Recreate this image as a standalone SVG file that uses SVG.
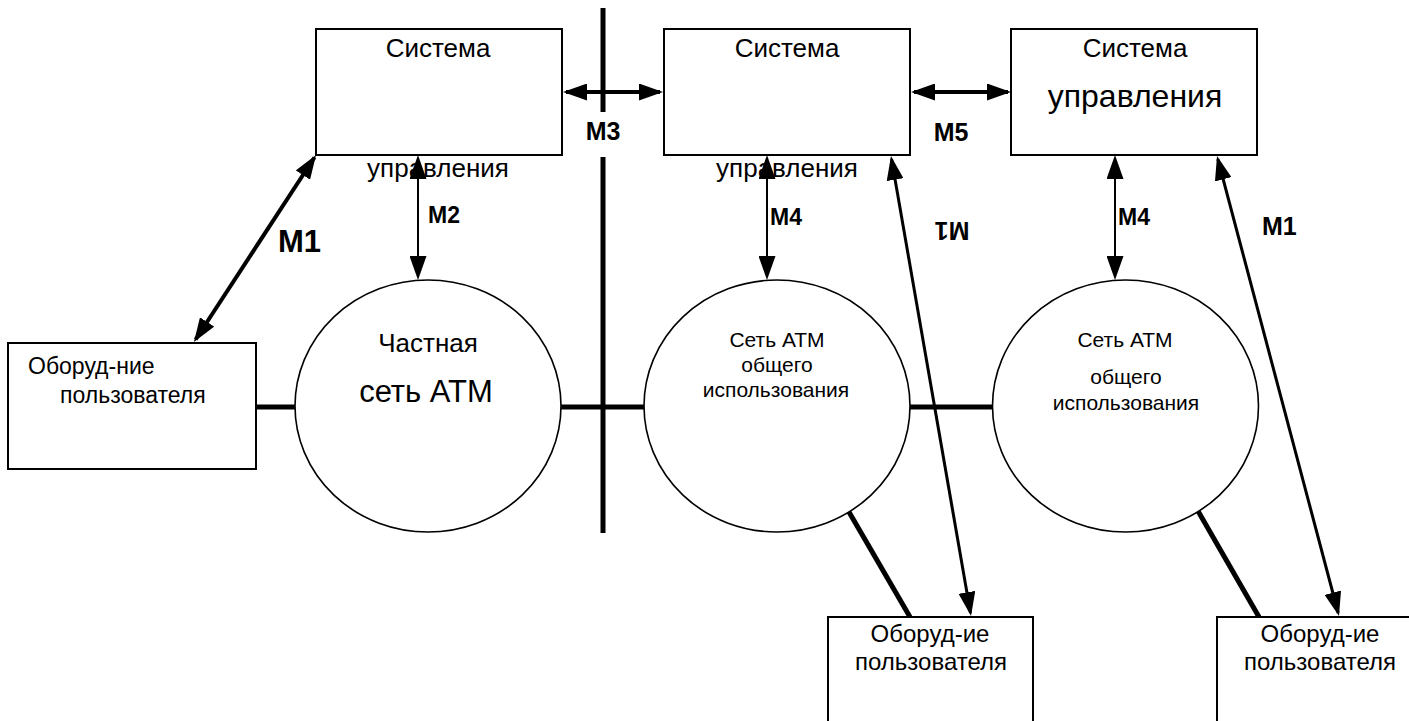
<svg xmlns="http://www.w3.org/2000/svg" width="1409" height="721" viewBox="0 0 1409 721">
  <style>
    .box { fill: #fff; stroke: #000; stroke-width: 2; }
    .net { fill: #fff; stroke: #000; stroke-width: 1.6; }
    .t { font-family: "Liberation Sans", Arial, sans-serif; fill: #000; }
    .c { text-anchor: middle; }
    .lbl { font-family: "Liberation Sans", Arial, sans-serif; font-weight: bold; fill: #000; }
    .link { stroke: #000; stroke-width: 5; fill: none; }
    .arr { stroke: #000; fill: none; marker-start: url(#head); marker-end: url(#head); }
  </style>
  <defs>
    <marker id="head" markerUnits="userSpaceOnUse" markerWidth="24" markerHeight="17" refX="21" refY="8.5" orient="auto-start-reverse" viewBox="0 0 24 17">
      <path d="M0,0 L24,8.5 L0,17 Z" fill="#000"/>
    </marker>
  </defs>
  <rect width="1409" height="721" fill="#fff"/>

  <!-- border between private and public networks -->
  <g id="divider">
    <line x1="603" y1="8" x2="603" y2="112" stroke="#000" stroke-width="5"/>
    <line x1="603" y1="157" x2="603" y2="533" stroke="#000" stroke-width="5"/>
  </g>

  <g id="links">
    <line class="link" x1="256" y1="407" x2="296" y2="407"/>
    <line class="link" x1="561" y1="407" x2="645" y2="407"/>
    <line class="link" x1="909" y1="407" x2="993" y2="407"/>
    <line class="link" x1="849" y1="512" x2="910" y2="617"/>
    <line class="link" x1="1198" y1="511" x2="1259" y2="617"/>
  </g>

  <g id="mgmt-private">
    <rect class="box" x="316" y="29" width="246" height="126"/>
    <text class="t c" x="438" y="57" font-size="26">Система</text>
    <text class="t c" x="438" y="177" font-size="26">управления</text>
  </g>
  <g id="mgmt-public-1">
    <rect class="box" x="664" y="29" width="246" height="126"/>
    <text class="t c" x="787" y="57" font-size="26">Система</text>
    <text class="t c" x="787" y="177" font-size="26">управления</text>
  </g>
  <g id="mgmt-public-2">
    <rect class="box" x="1011" y="29" width="246" height="126"/>
    <text class="t c" x="1135" y="57" font-size="26">Система</text>
    <text class="t c" x="1135" y="107" font-size="32">управления</text>
  </g>

  <g id="user-left">
    <rect class="box" x="8" y="343" width="248" height="126"/>
    <text class="t" x="28" y="374" font-size="23">Оборуд-ние</text>
    <text class="t" x="60" y="403" font-size="23">пользователя</text>
  </g>
  <g id="user-mid">
    <rect class="box" x="828" y="617" width="205" height="140"/>
    <text class="t c" x="930" y="642" font-size="24">Оборуд-ие</text>
    <text class="t c" x="931" y="670" font-size="24">пользователя</text>
  </g>
  <g id="user-right">
    <rect class="box" x="1217" y="617" width="230" height="140"/>
    <text class="t c" x="1320" y="642" font-size="24">Оборуд-ие</text>
    <text class="t c" x="1320" y="670" font-size="24">пользователя</text>
  </g>

  <g id="net-private">
    <ellipse class="net" cx="428" cy="406" rx="133" ry="126"/>
    <text class="t c" x="428" y="352" font-size="26">Частная</text>
    <text class="t c" x="426" y="402" font-size="31">сеть АТМ</text>
  </g>
  <g id="net-public-1">
    <ellipse class="net" cx="777" cy="406" rx="133" ry="126"/>
    <text class="t c" x="777" y="347" font-size="21">Сеть АТМ</text>
    <text class="t c" x="777" y="372" font-size="21">общего</text>
    <text class="t c" x="776" y="397" font-size="21">использования</text>
  </g>
  <g id="net-public-2">
    <ellipse class="net" cx="1125.5" cy="406" rx="133" ry="126"/>
    <text class="t c" x="1125" y="347" font-size="21">Сеть АТМ</text>
    <text class="t c" x="1126" y="384" font-size="21">общего</text>
    <text class="t c" x="1126" y="410" font-size="21">использования</text>
  </g>

  <!-- management interfaces -->
  <g id="connectors">
    <line class="arr" stroke-width="4" x1="566" y1="92" x2="660" y2="92"/>
    <line class="arr" stroke-width="4" x1="914" y1="92" x2="1008" y2="92"/>
    <line class="arr" stroke-width="2" x1="418" y1="158" x2="418" y2="277"/>
    <line class="arr" stroke-width="2" x1="767" y1="158" x2="767" y2="277"/>
    <line class="arr" stroke-width="2" x1="1115" y1="158" x2="1115" y2="277"/>
    <line class="arr" stroke-width="4" x1="314.4" y1="157.5" x2="195.6" y2="339.5"/>
    <line class="arr" stroke-width="3" x1="891.5" y1="159" x2="970.5" y2="613"/>
    <line class="arr" stroke-width="3" x1="1217.8" y1="159" x2="1338.2" y2="613"/>
  </g>

  <g id="labels">
    <text class="lbl c" x="603" y="140" font-size="25">M3</text>
    <text class="lbl c" x="951" y="141" font-size="25">M5</text>
    <text class="lbl" x="428" y="223" font-size="23">M2</text>
    <text class="lbl" x="770" y="225" font-size="23">M4</text>
    <text class="lbl" x="1118" y="225" font-size="23">M4</text>
    <text class="lbl" x="278" y="252" font-size="31">M1</text>
    <text class="lbl" x="1262" y="235" font-size="25">M1</text>
    <text class="lbl c" x="952" y="240" font-size="25" transform="rotate(180 952 231)">M1</text>
  </g>
</svg>
